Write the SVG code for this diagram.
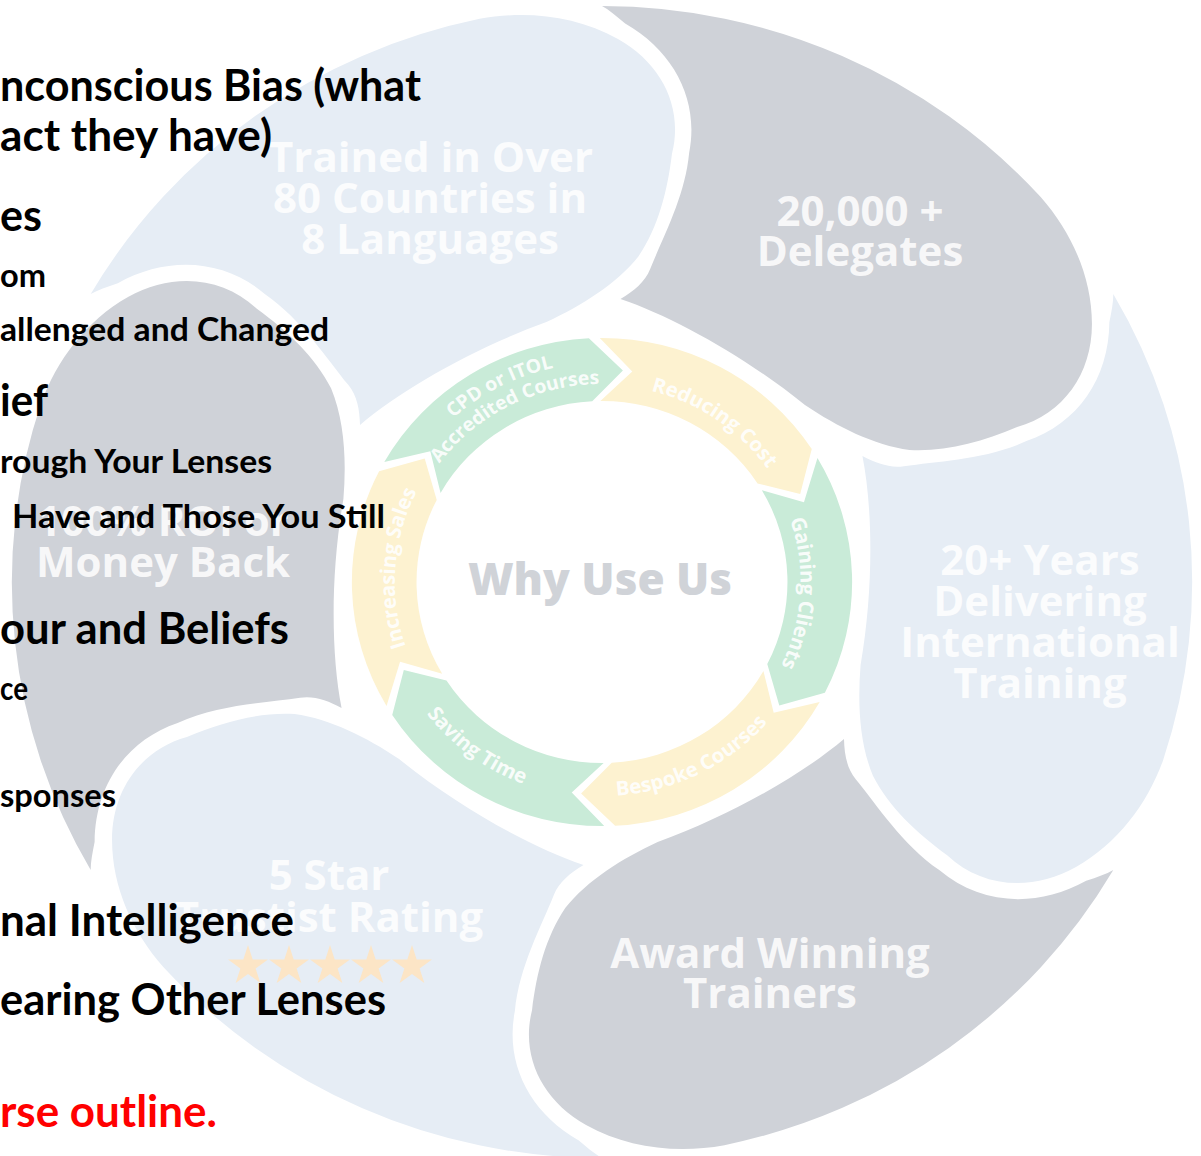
<svg xmlns="http://www.w3.org/2000/svg" width="1201" height="1156" viewBox="0 0 1201 1156">
<defs>
<style>
.lb{fill:#E6EDF5}
.gr{fill:#CFD2D8}
.pt{font-family:"Open Sans","DejaVu Sans",sans-serif;font-weight:700;font-size:42px;fill:#FFFFFF;fill-opacity:0.85;text-anchor:middle}
.gn{fill:#C9EBD8}
.yl{fill:#FDF2D0}
.ct{font-family:"Open Sans","DejaVu Sans",sans-serif;font-weight:700;font-size:20px;fill:#FFFFFF;fill-opacity:0.9}
.ct2{font-size:19px}
.star{fill:#FCE5C6}
.why{font-family:"Open Sans","DejaVu Sans",sans-serif;font-weight:800;font-size:44px;fill:#D0D3D8;text-anchor:middle}
.bk{font-family:Lato,"Liberation Sans",sans-serif;font-weight:700;fill:#000000}
.big{font-size:43px}
.sm{font-size:33px}
.red{fill:#FF0000}
</style>
<path id="petal" d="M 0,-576 A 576 576 0 0 1 428,-385 C 458,-350 478,-305 478,-258 C 478,-208 450,-168 405,-155 C 370,-140 335,-130 300,-132 C 265,-137 230,-155 198,-177 C 140,-225 70,-265 18,-283 C 31,-291 42,-300 47,-313 C 59,-344 81,-385 85,-429 C 95,-481 71,-530 22.6,-558.5 C 14,-566 7,-572 0,-576 Z"/>
<path id="arrow" d="M -212.4,-120.1 A 244 244 0 0 1 -12.8,-243.7 L 20.4,-211.5 L -9.5,-180.7 A 181 181 0 0 0 -157.5,-89.1 L -167.5,-130.8 Z"/>
<path id="star" d="M 0,-21 L 4.7,-6.47 L 19.97,-6.49 L 7.61,2.47 L 12.34,16.99 L 0,8 L -12.34,16.99 L -7.61,2.47 L -19.97,-6.49 L -4.7,-6.47 Z"/>
<path id="arc-cpd1" d="M 398.9 664.0 A 219 219 0 0 1 787.7 465.9"/>
<path id="arc-cpd2" d="M 418.4 656.2 A 198 198 0 0 1 769.9 477.1"/>
<path id="arc-red" d="M 450.0 456.7 A 197 197 0 0 1 773.5 679.0"/>
<path id="arc-gain" d="M 630.3 390.1 A 194 194 0 0 1 607.4 775.9"/>
<path id="arc-besp" d="M 419.4 693.5 A 214 214 0 0 0 801.3 503.9"/>
<path id="arc-sav" d="M 418.0 468.8 A 216 216 0 0 0 763.5 725.4"/>
<path id="arc-inc" d="M 570.4 781.5 A 202 202 0 0 1 598.5 380.0"/>
</defs>
<rect width="1201" height="1156" fill="#FFFFFF"/>

<g id="petal-trained">
<use href="#petal" class="lb" transform="translate(602,582) scale(1.025,1) rotate(-60)"/>
<text class="pt"><tspan x="431" y="172">Trained in Over</tspan><tspan x="430" y="213">80 Countries in</tspan><tspan x="430" y="254">8 Languages</tspan></text>
</g>
<g id="petal-delegates">
<use href="#petal" class="gr" transform="translate(602,582) scale(1.025,1)"/>
<text class="pt"><tspan x="860" y="226">20,000 +</tspan><tspan x="860" y="266">Delegates</tspan></text>
</g>
<g id="petal-years">
<use href="#petal" class="lb" transform="translate(602,582) scale(1.025,1) rotate(60)"/>
<text class="pt"><tspan x="1040" y="575">20+ Years</tspan><tspan x="1040" y="616">Delivering</tspan><tspan x="1040" y="657">International</tspan><tspan x="1040" y="698">Training</tspan></text>
</g>
<g id="petal-award">
<use href="#petal" class="gr" transform="translate(602,582) scale(1.025,1) rotate(120)"/>
<text class="pt"><tspan x="770" y="968">Award Winning</tspan><tspan x="770" y="1008">Trainers</tspan></text>
</g>
<g id="petal-rating">
<use href="#petal" class="lb" transform="translate(602,582) scale(1.025,1) rotate(180)"/>
<text class="pt"><tspan x="329" y="890">5 Star</tspan><tspan x="329" y="932">Trustist Rating</tspan></text>
<use href="#star" class="star" x="248" y="966"/>
<use href="#star" class="star" x="289" y="966"/>
<use href="#star" class="star" x="330" y="966"/>
<use href="#star" class="star" x="371" y="966"/>
<use href="#star" class="star" x="412" y="966"/>
</g>
<g id="petal-roi">
<use href="#petal" class="gr" transform="translate(602,582) scale(1.025,1) rotate(240)"/>
<text class="pt"><tspan x="163" y="536">100% ROI or</tspan><tspan x="163" y="577">Money Back</tspan></text>
</g>

<g id="step-cpd" transform="matrix(1.025,0,0,1,-15.05,0)">
<use href="#arrow" class="gn" transform="translate(602,582)"/>
<text class="ct ct2"><textPath href="#arc-cpd1" startOffset="50%" text-anchor="middle">CPD or ITOL</textPath></text>
<text class="ct ct2"><textPath href="#arc-cpd2" startOffset="50%" text-anchor="middle">Accredited Courses</textPath></text>
</g>
<g id="step-reducing" transform="matrix(1.025,0,0,1,-15.05,0)">
<use href="#arrow" class="yl" transform="translate(602,582) rotate(60)"/>
<text class="ct"><textPath href="#arc-red" startOffset="50%" text-anchor="middle">Reducing Cost</textPath></text>
</g>
<g id="step-gaining" transform="matrix(1.025,0,0,1,-15.05,0)">
<use href="#arrow" class="gn" transform="translate(602,582) rotate(120)"/>
<text class="ct"><textPath href="#arc-gain" startOffset="50%" text-anchor="middle">Gaining Clients</textPath></text>
</g>
<g id="step-bespoke" transform="matrix(1.025,0,0,1,-15.05,0)">
<use href="#arrow" class="yl" transform="translate(602,582) rotate(180)"/>
<text class="ct"><textPath href="#arc-besp" startOffset="50%" text-anchor="middle">Bespoke Courses</textPath></text>
</g>
<g id="step-saving" transform="matrix(1.025,0,0,1,-15.05,0)">
<use href="#arrow" class="gn" transform="translate(602,582) rotate(240)"/>
<text class="ct"><textPath href="#arc-sav" startOffset="50%" text-anchor="middle">Saving Time</textPath></text>
</g>
<g id="step-increasing" transform="matrix(1.025,0,0,1,-15.05,0)">
<use href="#arrow" class="yl" transform="translate(602,582) rotate(300)"/>
<text class="ct"><textPath href="#arc-inc" startOffset="50%" text-anchor="middle">Increasing Sales</textPath></text>
</g>

<g id="center">
<text class="why" x="600" y="595">Why Use Us</text>
</g>

<g id="slide-text">
<text class="bk big" x="0" y="101" textLength="421" lengthAdjust="spacingAndGlyphs">nconscious Bias (what</text>
<text class="bk big" x="0" y="151" textLength="272" lengthAdjust="spacingAndGlyphs">act they have)</text>
<text class="bk big" x="0" y="231" textLength="42" lengthAdjust="spacingAndGlyphs">es</text>
<text class="bk sm" x="0" y="287" textLength="46" lengthAdjust="spacingAndGlyphs">om</text>
<text class="bk sm" x="0" y="341" textLength="329" lengthAdjust="spacingAndGlyphs">allenged and Changed</text>
<text class="bk big" x="0" y="416" textLength="48" lengthAdjust="spacingAndGlyphs">ief</text>
<text class="bk sm" x="0" y="473" textLength="272" lengthAdjust="spacingAndGlyphs">rough Your Lenses</text>
<text class="bk sm" x="12" y="528" textLength="373" lengthAdjust="spacingAndGlyphs">Have and Those You Still</text>
<text class="bk big" x="0" y="644" textLength="289" lengthAdjust="spacingAndGlyphs">our and Beliefs</text>
<text class="bk sm" x="0" y="700" textLength="28" lengthAdjust="spacingAndGlyphs">ce</text>
<text class="bk sm" x="0" y="807" textLength="116" lengthAdjust="spacingAndGlyphs">sponses</text>
<text class="bk big" x="0" y="936" textLength="294" lengthAdjust="spacingAndGlyphs">nal Intelligence</text>
<text class="bk big" x="0" y="1015" textLength="386" lengthAdjust="spacingAndGlyphs">earing Other Lenses</text>
<text class="bk big red" x="0" y="1127" textLength="217" lengthAdjust="spacingAndGlyphs">rse outline.</text>
</g>
</svg>
